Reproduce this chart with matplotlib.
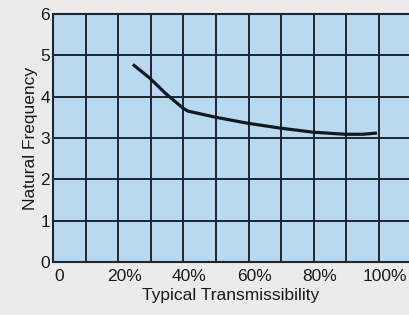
import matplotlib.pyplot as plt
import matplotlib.transforms as mtransforms

plt.rcParams['font.family'] = ['Liberation Sans', 'DejaVu Sans']

# 곡선 데이터
transmissibility = [24.5, 29.8, 34.5, 39.9, 41.4, 50.0, 59.5, 69.6, 79.8, 89.6, 95.0, 99.4]
frequency = [4.78, 4.44, 4.08, 3.72, 3.65, 3.50, 3.36, 3.24, 3.14, 3.09, 3.09, 3.12]

x_ticks = [0, 20, 40, 60, 80, 100]
x_labels = ["0", "20%", "40%", "60%", "80%", "100%"]
y_ticks = [0, 1, 2, 3, 4, 5, 6]

fig = plt.figure(figsize=(4.09, 3.15), dpi=100, facecolor="#ebebeb")
ax = fig.add_axes([0.1296, 0.1683, 0.8704, 0.7873])
ax.set_facecolor("#b9d9f1")

ax.plot(transmissibility, frequency, color="#101820", linewidth=2.3,
        solid_capstyle="butt", zorder=3)

ax.set_xlim(0, 109.2)
ax.set_ylim(0, 6)

# 10% 간격 세로 격자, 1 간격 가로 격자
for v in range(10, 110, 10):
    ax.axvline(v, color="#1c2733", linewidth=1.4, zorder=2)
for v in range(1, 6):
    ax.axhline(v, color="#1c2733", linewidth=1.4, zorder=2)

ax.set_xticks(x_ticks)
ax.set_xticklabels(x_labels)
ax.set_yticks(y_ticks)
ax.tick_params(length=0, labelsize=12.5, colors="#1a1a1a")
ax.tick_params(axis="x", pad=5)
ax.tick_params(axis="y", pad=2)
offset = mtransforms.ScaledTranslation(6 / 100, 0, fig.dpi_scale_trans)
for lab in ax.get_xticklabels():
    lab.set_transform(lab.get_transform() + offset)

ax.spines["right"].set_visible(False)
for side in ["left", "bottom", "top"]:
    ax.spines[side].set_color("#1c2733")
    ax.spines[side].set_linewidth(1.5)

ax.set_xlabel("Typical Transmissibility", fontsize=12.5, color="#1a1a1a", labelpad=3)
ax.set_ylabel("Natural Frequency", fontsize=12.5, color="#1a1a1a", labelpad=2)

fig.savefig("out.png", dpi=100, facecolor=fig.get_facecolor())
